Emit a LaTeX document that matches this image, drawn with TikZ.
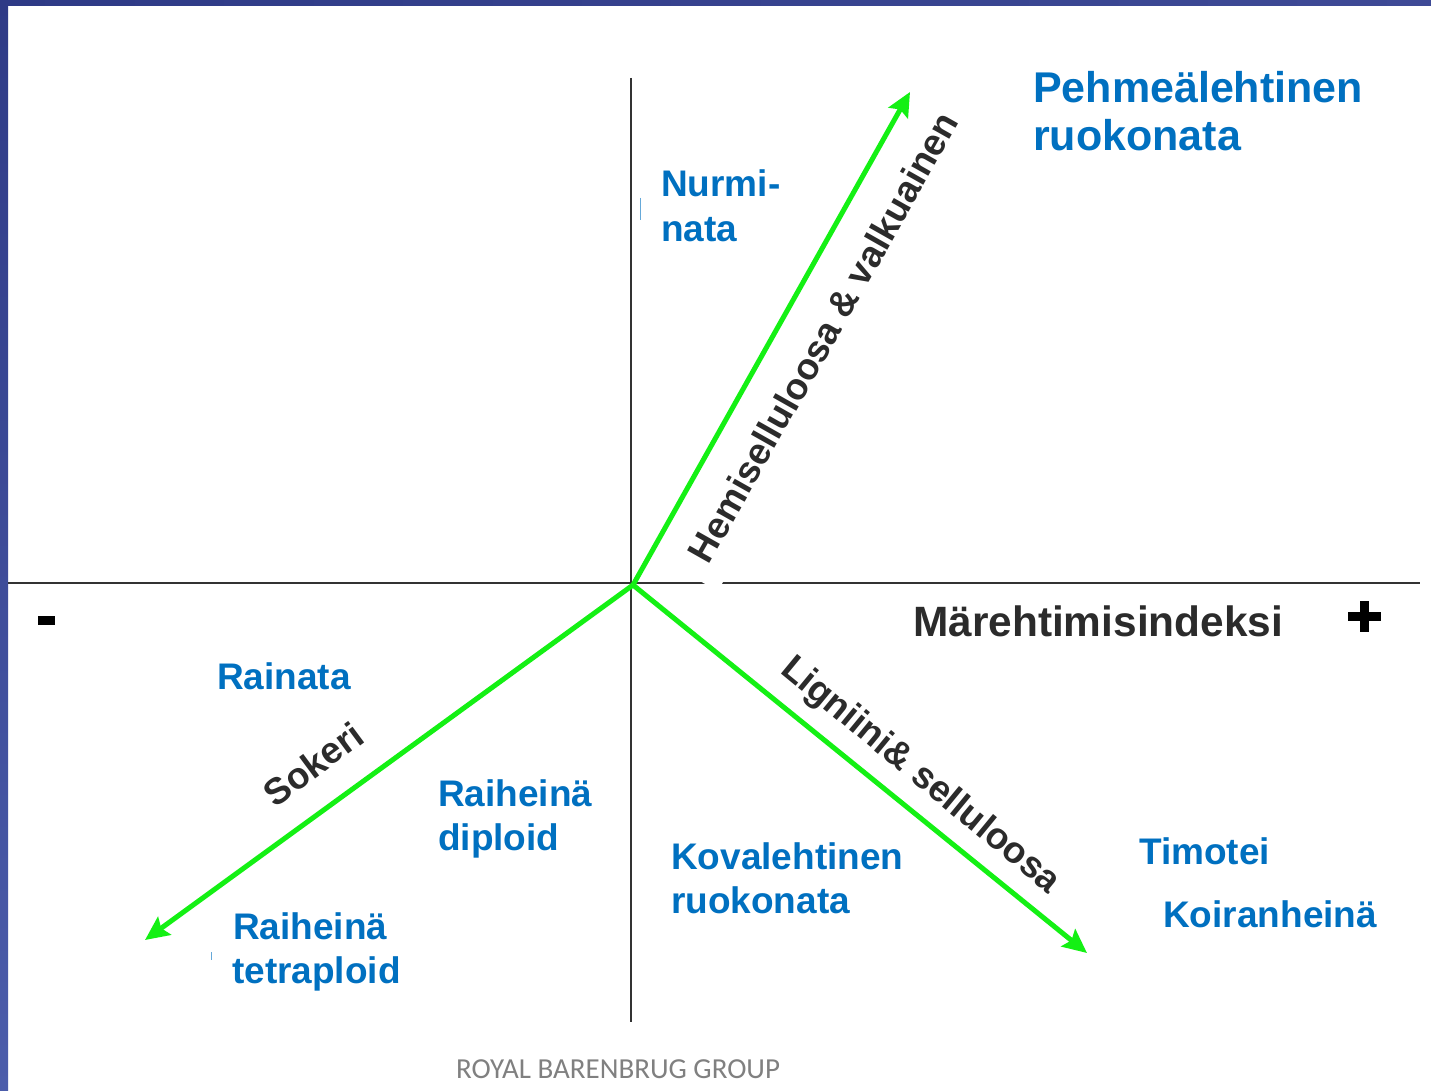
\documentclass[tikz,border=0pt]{standalone}
\usepackage{fontspec}
\setmainfont{Liberation Sans}
\newfontfamily\footfont{Carlito}
\usetikzlibrary{arrows.meta}
\definecolor{lblblue}{HTML}{0070C0}
\definecolor{darklbl}{HTML}{2B2B2B}
\definecolor{axisgray}{HTML}{333333}
\definecolor{arrowgreen}{HTML}{14F014}
\definecolor{bandtop}{HTML}{2E3A86}
\definecolor{bandtopr}{HTML}{3E4A96}
\definecolor{bandbot}{HTML}{4C5DAB}
\tikzset{
  blue lbl/.style={anchor=base west, inner sep=0pt, text=lblblue, font=\fontsize{37}{44}\selectfont\bfseries},
  big lbl/.style={anchor=base west, inner sep=0pt, text=lblblue, font=\fontsize{43}{50}\selectfont\bfseries},
  axis lbl/.style={inner sep=1pt, text=darklbl, font=\fontsize{37}{44}\selectfont\bfseries},
  axisline/.style={draw=axisgray, line width=1.6pt},
  greenarrow/.style={draw=arrowgreen, line width=5pt, -{Stealth[length=24pt, width=22pt, inset=4pt]}},
}
\begin{document}
\begin{tikzpicture}[x=1pt, y=-1pt]
\useasboundingbox (0,0) rectangle (1431,1091);
\fill[white] (0,0) rectangle (1431,1091);
% border bands
\shade[left color=bandtop, right color=bandtopr] (0,0) rectangle (1431,6);
\shade[top color=bandtop, bottom color=bandbot] (0,0) rectangle (8,1091);

% axes
\coordinate (hl) at (8,583);
\coordinate (hr) at (1420,583);
\coordinate (vt) at (631,78);
\coordinate (vb) at (631,1022);
\draw[axisline] (hl) -- (hr);
\draw[axisline] (vt) -- (vb);

% label whose white box cuts the axis
\node[axis lbl, fill=white, inner xsep=18pt, inner ysep=20pt, rotate=60.5] (hemi) at (823,337) {Hemiselluloosa \& valkuainen};

% green arrows
\coordinate (o) at (633,585);
\coordinate (tipUp) at (910,92);
\coordinate (tipLeft) at (145,940);
\coordinate (tipRight) at (1087,953);
\draw[greenarrow] (o) -- (tipUp);
\draw[greenarrow] (o) -- (tipLeft);
\draw[greenarrow] (o) -- (tipRight);

% axis labels
\node[axis lbl, rotate=-39.5] (lign) at (920,776) {Ligniini\& selluloosa};
\node[axis lbl, rotate=36.5] (sok) at (313,764) {Sokeri};
\node[anchor=base west, inner sep=0pt, text=darklbl, font=\fontsize{42.4}{50}\selectfont\bfseries] (mar) at (913,636) {Märehtimisindeksi};

% plus / minus
\fill[black] (38,616) rectangle (55,625);
\node[inner sep=0pt] (minus) at (46.5,620.5) {};
\fill[black] (1360,601) rectangle (1369,632);
\fill[black] (1348,612) rectangle (1381,621);
\node[inner sep=0pt] (plus) at (1364.5,616.5) {};

% blue labels
\node[big lbl] (pehm1) at (1033,103) {Pehmeälehtinen};
\node[big lbl] (pehm2) at (1033,151) {ruokonata};
\node[blue lbl] (nurmi1) at (661,197) {Nurmi-};
\node[blue lbl] (nurmi2) at (661,242) {nata};
\node[blue lbl] (rainata) at (217,689) {Rainata};
\node[blue lbl] (rdip1) at (438,806) {Raiheinä};
\node[blue lbl] (rdip2) at (438,850) {diploid};
\node[blue lbl] (kova1) at (671,869) {Kovalehtinen};
\node[blue lbl] (kova2) at (671,913) {ruokonata};
\node[blue lbl] (rtet1) at (233,939) {Raiheinä};
\node[blue lbl] (rtet2) at (232,983) {tetraploid};
\node[blue lbl] (timo) at (1139,864) {Timotei};
\node[blue lbl] (koir) at (1163,927) {Koiranheinä};

% small artifacts
\draw[lblblue!60, line width=1pt] (640,198) -- (640,220);
\draw[lblblue!60, line width=1pt] (211,952) -- (211,960);

% footer
\node[anchor=base west, inner sep=0pt, text=black!50, font=\footfont\fontsize{29}{32}\selectfont] (footer) at (456,1078) {ROYAL BARENBRUG GROUP};
\end{tikzpicture}
\end{document}
